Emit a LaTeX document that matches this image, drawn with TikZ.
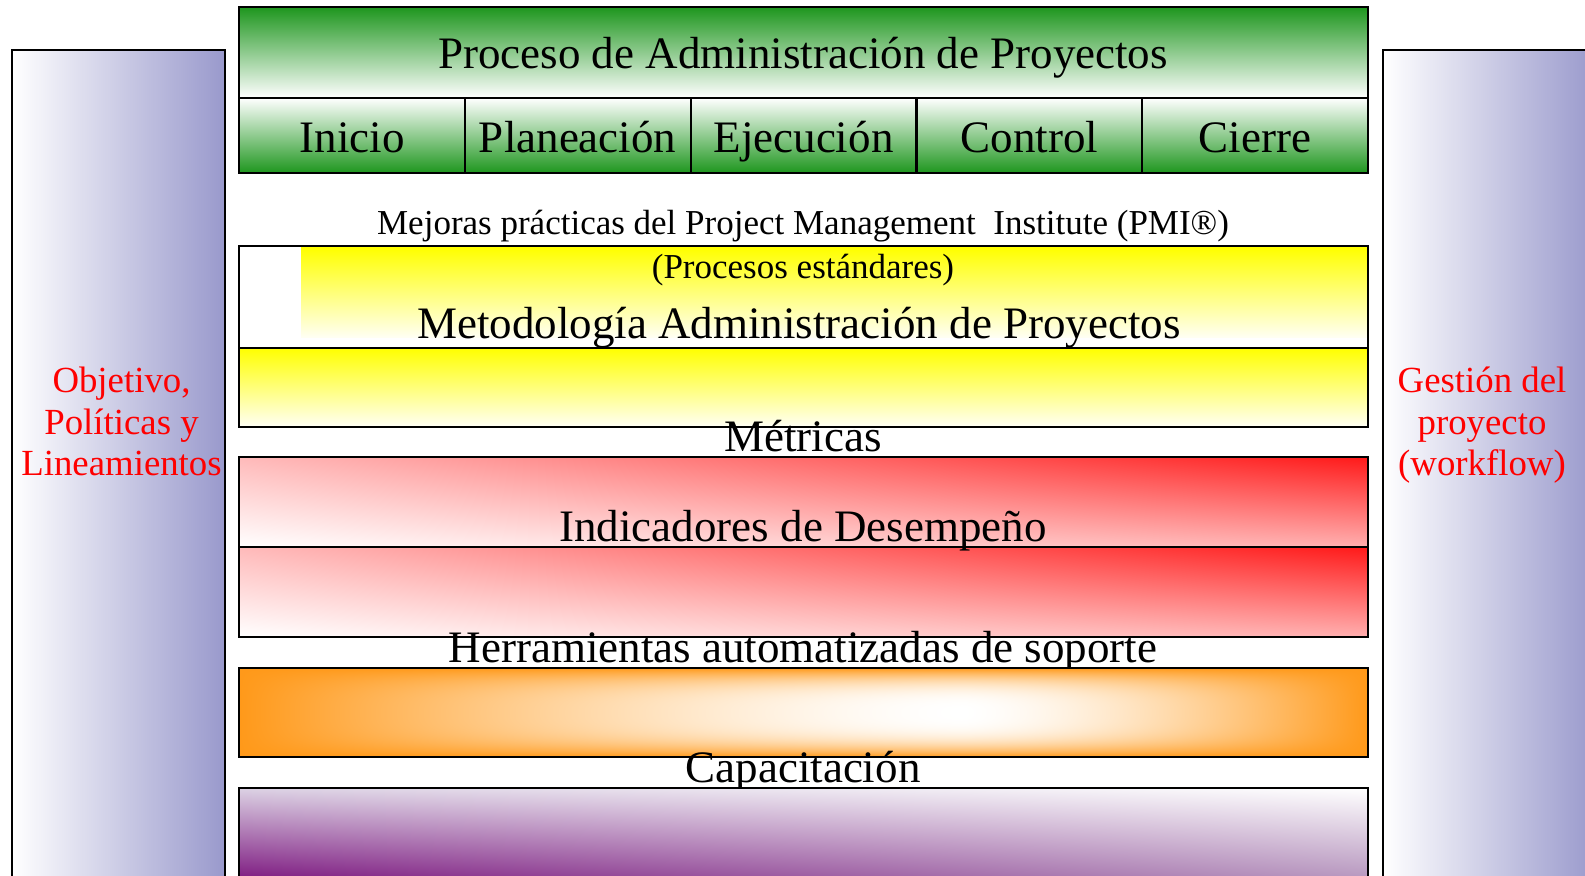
\documentclass[tikz,border=0pt]{standalone}
\usepackage{fontspec}
\setmainfont{Liberation Serif}
\usetikzlibrary{shadings}
\definecolor{grn}{RGB}{30,150,30}
\definecolor{lav}{RGB}{153,153,204}
\definecolor{yel}{RGB}{255,255,0}
\definecolor{yelw}{RGB}{255,255,245}
\definecolor{redc}{RGB}{255,25,25}
\definecolor{purp}{RGB}{125,25,128}
\definecolor{purpul}{RGB}{220,210,228}
\definecolor{purplr}{RGB}{182,150,190}
\definecolor{txtred}{RGB}{255,0,0}
\pgfdeclarefunctionalshading{orangeglow}{\pgfpointorigin}{\pgfpoint{100bp}{100bp}}{}{
  50 sub abs 25 div dup 1 gt {pop 1} if 3 exp
  exch
  dup 57 lt {57 exch sub 32 div} {57 sub 18 div} ifelse
  dup 1 gt {pop 1} if 1.5 exp
  1 exch sub exch 1 exch sub mul 1 exch sub
  dup 0.4 mul 1 exch sub exch 0.9 mul 1 exch sub
  1 3 1 roll
}
\tikzset{
  frame/.style={draw=black, line width=1.1pt},
  bigtxt/.style={font=\fontsize{22.5}{26}\selectfont, inner sep=0pt, anchor=base},
  midtxt/.style={font=\fontsize{17.5}{21}\selectfont, inner sep=0pt, anchor=base},
  sidetxt/.style={font=\fontsize{18.4}{21}\selectfont, text=txtred, inner sep=0pt, anchor=base}
}
\begin{document}
\begin{tikzpicture}[x=0.5pt,y=-0.5pt]
\useasboundingbox (0,0) rectangle (1585,876);
\fill[white] (0,0) rectangle (1585,876);
% side bars
\shade[left color=white, right color=lav] (12,50) rectangle (225,890);
\draw[frame] (12,890) -- (12,50) -- (225,50) -- (225,890);
\shade[left color=white, right color=lav] (1383,50) rectangle (1596,890);
\draw[frame] (1383,890) -- (1383,50) -- (1596,50) -- (1596,890);
\node[sidetxt] (obj1) at (121.5,393) {Objetivo,};
\node[sidetxt] (obj2) at (121.5,435) {Políticas y};
\node[sidetxt] (obj3) at (121.5,476) {Lineamientos};
\node[sidetxt] (ges1) at (1482,393) {Gestión del};
\node[sidetxt] (ges2) at (1482,435) {proyecto};
\node[sidetxt] (ges3) at (1482,476) {(workflow)};
% green process box
\shade[top color=grn, bottom color=white] (239,7) rectangle (1368,98);
\shade[top color=white, bottom color=grn] (239,98) rectangle (1368,173);
\draw[frame] (239,7) rectangle (1368,173);
\draw[frame] (239,98) -- (1368,98);
\foreach \xx in {464.8,690.6,916.4,1142.2} \draw[frame] (\xx,98) -- (\xx,173);
\node[bigtxt] (title) at (803,69) {Proceso de Administración de Proyectos};
\node[bigtxt] (inicio) at (352,153) {Inicio};
\node[bigtxt] (plan) at (577.7,153) {Planeación};
\node[bigtxt] (ejec) at (803.5,153) {Ejecución};
\node[bigtxt] (ctrl) at (1029.3,153) {Control};
\node[bigtxt] (cierre) at (1255.1,153) {Cierre};
\node[midtxt] (pmi) at (803,235) {Mejoras prácticas del Project Management\ \ Institute (PMI®)};
% yellow box
\fill[white] (239,246) rectangle (1368,427);
\shade[top color=yel, bottom color=yelw] (301,248) rectangle (1368,338);
\shade[top color=yel, bottom color=yelw] (239,348) rectangle (1368,427);
\draw[frame] (239,246) rectangle (1368,427);
\draw[frame] (239,348) -- (1368,348);
\node[midtxt] (proc) at (803,279) {(Procesos estándares)};
\node[bigtxt] (metod) at (799,339) {Metodología Administración de Proyectos};
\node[bigtxt] (metr) at (803,452) {Métricas};
% red box
\shade[upper right=redc, upper left=redc!30!white, lower left=white, lower right=redc!35!white] (239,457) rectangle (1368,547);
\shade[upper right=redc, upper left=redc!30!white, lower left=white, lower right=redc!35!white] (239,547) rectangle (1368,637);
\draw[frame] (239,457) rectangle (1368,637);
\draw[frame] (239,547) -- (1368,547);
\node[bigtxt] (indic) at (803,542) {Indicadores de Desempeño};
\node[bigtxt] (herr) at (803,662) {Herramientas automatizadas de soporte};
% orange box
\shade[shading=orangeglow] (239,668) rectangle (1368,757);
\draw[frame] (239,668) rectangle (1368,757);
\node[bigtxt] (capac) at (803,782) {Capacitación};
% purple box
\shade[upper right=white, upper left=purpul, lower left=purp, lower right=purplr] (239,788) rectangle (1368,880);
\draw[frame] (239,880) rectangle (1368,788);
\end{tikzpicture}
\end{document}
